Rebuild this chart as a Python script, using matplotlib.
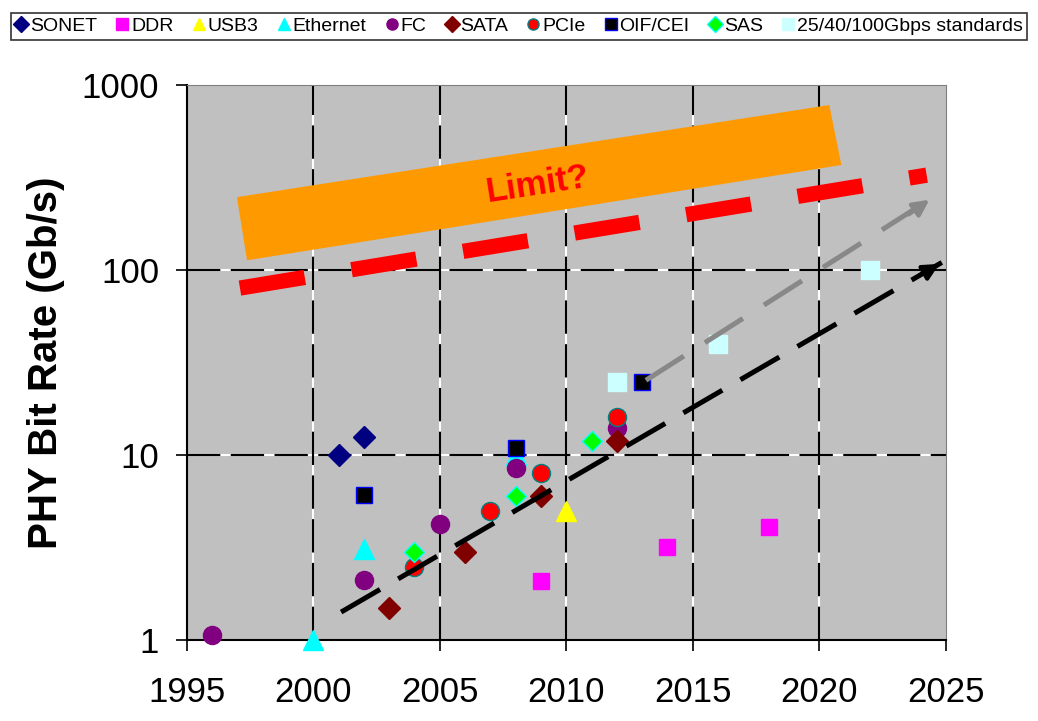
import matplotlib.pyplot as plt
from matplotlib.patches import Polygon

plt.rcParams['font.family'] = ['Liberation Sans', 'DejaVu Sans']

# data (year, Gb/s)
sonet_x = [2001, 2002]
sonet_y = [10, 12.5]
ddr_x = [2009, 2014, 2018]
ddr_y = [2.1, 3.2, 4.1]
usb3_x = [2010]
usb3_y = [5]
eth_x = [2000, 2002, 2008]
eth_y = [1, 3.125, 10]
fc_x = [1996, 2002, 2005, 2008, 2012]
fc_y = [1.0625, 2.125, 4.25, 8.5, 14.025]
sata_x = [2003, 2006, 2009, 2012]
sata_y = [1.5, 3, 6, 12]
pcie_x = [2004, 2007, 2009, 2012]
pcie_y = [2.5, 5, 8, 16]
oif_x = [2002, 2008, 2013]
oif_y = [6.1, 11, 25]
sas_x = [2004, 2008, 2011]
sas_y = [3, 6, 12]
std_x = [2012, 2016, 2022]
std_y = [25, 40, 100]

# trend lines
trend_x = [2001.1, 2024.85]
trend_y = [1.42, 110]
fast_x = [2013.15, 2024.45]
fast_y = [25.4, 245]
limit_x = [1997.1, 2024.25]
limit_y = [80, 326]
# orange "Limit?" band corners
band_x = [1996.98, 2020.4, 2020.88, 1997.38]
band_y = [248, 780, 370, 113]

fig = plt.figure(figsize=(10.38, 7.21), dpi=100)
ax = fig.add_axes([0.180, 0.112, 0.731, 0.770])
ax.set_facecolor('#C0C0C0')

# gridlines: black dashes over white
for yv in [10, 100]:
    ax.axhline(yv, color='white', lw=1.5, zorder=1)
    ax.axhline(yv, color='black', lw=1.5, ls=(0, (16, 5)), zorder=1.1)
for xv in [2000, 2005, 2010, 2015, 2020]:
    ax.axvline(xv, color='white', lw=1.5, zorder=1)
    ax.axvline(xv, color='black', lw=1.5, ls=(0, (16, 5)), zorder=1.1)

ms = 13
series = [
    ('SONET', sonet_x, sonet_y, 'D', '#000080', '#000080', ms - 2),
    ('DDR', ddr_x, ddr_y, 's', '#FF00FF', '#FF00FF', ms - 1),
    ('USB3', usb3_x, usb3_y, '^', '#FFFF00', '#FFFF00', ms + 1),
    ('Ethernet', eth_x, eth_y, '^', '#00FFFF', '#00FFFF', ms + 1),
    ('FC', fc_x, fc_y, 'o', '#800080', '#800080', ms),
    ('SATA', sata_x, sata_y, 'D', '#800000', '#800000', ms - 2),
    ('PCIe', pcie_x, pcie_y, 'o', '#FF0000', '#008080', ms),
    ('OIF/CEI', oif_x, oif_y, 's', '#000000', '#0000FF', ms - 1),
    ('SAS', sas_x, sas_y, 'D', '#00FF00', '#00FFFF', ms - 3),
    ('25/40/100Gbps standards', std_x, std_y, 's', '#CCFFFF', '#CCFFFF', ms),
]
handles = []
for name, xs, ys, m, fc, ec, s in series:
    ax.plot(xs, ys, ls='none', marker=m, ms=s, mfc=fc, mec=ec, mew=1,
            zorder=3, clip_on=False)
    h, = plt.plot([], [], ls='none', marker=m, ms=8, mfc=fc, mec=ec, mew=1, label=name)
    handles.append(h)

# trends
ax.plot(trend_x, trend_y, color='black', lw=3.6, ls=(0, (9, 4.2)),
        dash_capstyle='butt', zorder=4)
ax.annotate('', xy=(trend_x[1], trend_y[1]), xytext=(trend_x[1] - 1, trend_y[1] / 1.2),
            arrowprops=dict(arrowstyle='-|>', color='black', lw=3, mutation_scale=24), zorder=4)
ax.plot(fast_x, fast_y, color='#888888', lw=3.6, ls=(0, (9, 5)),
        dash_capstyle='butt', zorder=4)
ax.annotate('', xy=(fast_x[1], fast_y[1]), xytext=(fast_x[1] - 1, fast_y[1] / 1.25),
            arrowprops=dict(arrowstyle='-|>', color='#888888', lw=3, mutation_scale=24), zorder=4)
ax.plot(limit_x, limit_y, color='#FF0000', lw=11, ls=(0, (4.3, 3.1)),
        dash_capstyle='butt', zorder=4)
ax.add_patch(Polygon(list(zip(band_x, band_y)), closed=True, facecolor='#FF9900',
                     edgecolor='none', zorder=5))
ax.text(2008.87, 288, 'Limit?', color='#FF0000', fontsize=25, fontweight='bold',
        rotation=8.8, ha='center', va='center', zorder=6)

ax.set_yscale('log')
ax.set_xlim(1995, 2025)
ax.set_ylim(1, 1000)
ax.set_xticks([1995, 2000, 2005, 2010, 2015, 2020, 2025])
ax.set_yticks([1, 10, 100, 1000])
ax.set_yticklabels(['1', '10', '100', '1000'])
ax.minorticks_off()
ax.tick_params(labelsize=25, length=8, width=1.2, direction='out')
ax.tick_params(axis='y', pad=12)
ax.tick_params(axis='x', pad=18)
ax.set_ylabel('PHY Bit Rate (Gb/s)', fontsize=29, fontweight='bold', labelpad=12)
for sp in ['left', 'bottom']:
    ax.spines[sp].set_color('black')
    ax.spines[sp].set_linewidth(1.5)
for sp in ['top', 'right']:
    ax.spines[sp].set_color('#808080')

leg = fig.legend(handles=handles, loc='upper center', bbox_to_anchor=(0.5, 0.985),
                 ncol=10, fontsize=14, frameon=True, fancybox=False,
                 edgecolor='black', handlelength=0.6, handletextpad=0.15,
                 columnspacing=1.0, borderpad=0.25, borderaxespad=0.1)
leg.get_frame().set_linewidth(1.2)

fig.savefig('out.png', dpi=100)
